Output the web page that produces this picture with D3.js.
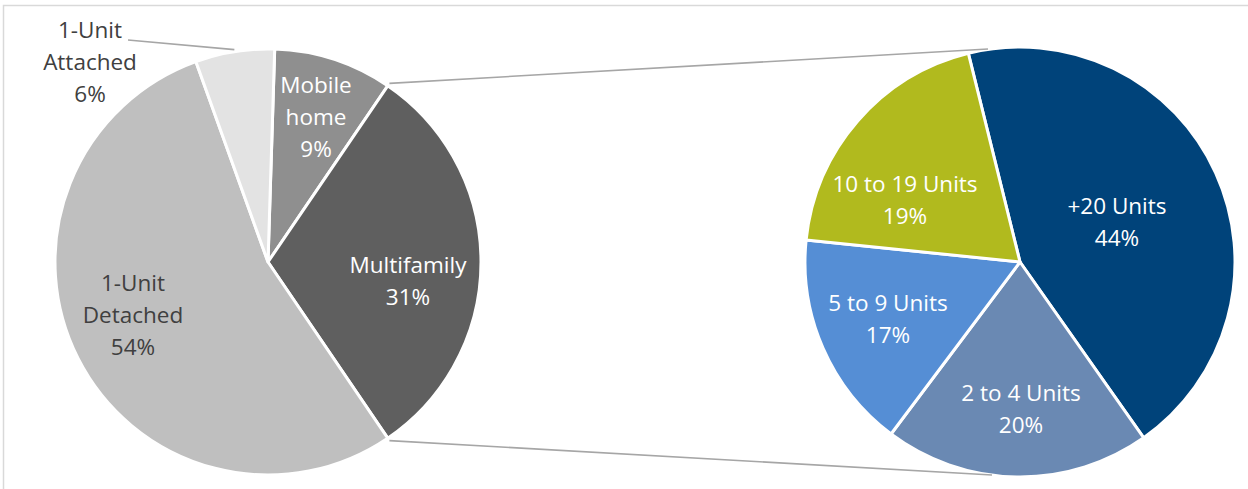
<!DOCTYPE html>
<html><head><meta charset="utf-8">
<script src="https://cdn.jsdelivr.net/npm/d3@7"></script>
<style>body{margin:0;background:#fff;}svg{display:block;}</style>
</head><body>
<script>
// Data
const mainCategories = ["Mobile home", "Multifamily", "1-Unit Detached", "1-Unit Attached"];
const mainValues = [9, 31, 54, 6];
const mainLabels = [["Mobile","home","9%"], ["Multifamily","31%"], ["1-Unit","Detached","54%"], ["1-Unit","Attached","6%"]];
const subCategories = ["+20 Units", "2 to 4 Units", "5 to 9 Units", "10 to 19 Units"];
const subValues = [44.1, 20, 16.4, 19.5];
const subLabels = [["+20 Units","44%"], ["2 to 4 Units","20%"], ["5 to 9 Units","17%"], ["10 to 19 Units","19%"]];

const W = 1248, H = 489;
const svg = d3.select("body").append("svg").attr("width", W).attr("height", H);

// chart border
svg.append("path").attr("d", `M3.5,${H}V5.5H${W}`).attr("fill","none").attr("stroke","#d9d9d9").attr("stroke-width",1.5);

const mainColors = d3.scaleOrdinal().domain(mainCategories).range(["#8f8f8f","#5f5f5f","#bfbfbf","#e3e3e3"]);
const mainText = d3.scaleOrdinal().domain(mainCategories).range(["#fff","#fff","#404040","#404040"]);
const subColors = d3.scaleOrdinal().domain(subCategories).range(["#00437a","#6a89b3","#558ed5","#b1ba1e"]);

const font = "'Open Sans', sans-serif";
const fs = 22.5, lh = 32;

// Main pie
const c1 = [268, 262], r1 = 213;
const total1 = d3.sum(mainValues);
const idxMF = mainCategories.indexOf("Multifamily");
const before = d3.sum(mainValues.slice(0, idxMF));
const offset1 = Math.PI/2 - (before + mainValues[idxMF]/2) / total1 * 2*Math.PI;
const pie1 = d3.pie().sort(null).value(d => d.v).startAngle(offset1).endAngle(offset1 + 2*Math.PI);
const data1 = pie1(mainCategories.map((c,i)=>({c, v: mainValues[i], l: mainLabels[i]})));
const arc1 = d3.arc().innerRadius(0).outerRadius(r1);
const g1 = svg.append("g").attr("transform", `translate(${c1})`);

// Sub pie
const c2 = [1020, 262], r2 = 215;
const offset2 = -13.9 * Math.PI/180;
const pie2 = d3.pie().sort(null).value(d => d.v).startAngle(offset2).endAngle(offset2 + 2*Math.PI);
const data2 = pie2(subCategories.map((c,i)=>({c, v: subValues[i], l: subLabels[i]})));
const arc2 = d3.arc().innerRadius(0).outerRadius(r2);
const g2 = svg.append("g").attr("transform", `translate(${c2})`);

// connector lines
const mf = data1[idxMF];
const pt = (c, r, a) => [c[0] + r*Math.sin(a), c[1] - r*Math.cos(a)];
const pA = pt(c1, r1+3, mf.startAngle), pB = pt(c1, r1+3, mf.endAngle);
svg.append("line").attr("x1",pA[0]).attr("y1",pA[1]).attr("x2",c2[0]-32).attr("y2",c2[1]-r2+2)
  .attr("stroke","#a6a6a6").attr("stroke-width",1.6);
svg.append("line").attr("x1",pB[0]).attr("y1",pB[1]).attr("x2",c2[0]-28).attr("y2",c2[1]+r2-2)
  .attr("stroke","#a6a6a6").attr("stroke-width",1.6);

g1.selectAll("path").data(data1).join("path").attr("d", arc1)
  .attr("fill", d => mainColors(d.data.c)).attr("stroke","#fff").attr("stroke-width",3).attr("stroke-linejoin","round");
g2.selectAll("path").data(data2).join("path").attr("d", arc2)
  .attr("fill", d => subColors(d.data.c)).attr("stroke","#fff").attr("stroke-width",3).attr("stroke-linejoin","round");

// label positions
const mainLabelPos = {"Mobile home":[316,85], "Multifamily":[408,265], "1-Unit Detached":[133,283], "1-Unit Attached":[90,30]};
const subLabelPos = {"+20 Units":[1117,206], "2 to 4 Units":[1021,393], "5 to 9 Units":[888,303], "10 to 19 Units":[905,184]};

// leader line for 1-Unit Attached
const att = data1[mainCategories.indexOf("1-Unit Attached")];
const attEnd = pt(c1, r1+2, (att.startAngle+att.endAngle)/2);
svg.append("line").attr("x1",128).attr("y1",40).attr("x2",attEnd[0]).attr("y2",attEnd[1])
  .attr("stroke","#a6a6a6").attr("stroke-width",1.6);

function drawLabel(lines, pos, color){
  const t = svg.append("text").attr("text-anchor","middle").attr("font-family",font).attr("font-size",fs).attr("fill",color);
  lines.forEach((s,i)=> t.append("tspan").attr("x",pos[0]).attr("y",pos[1] + i*lh).attr("dy","0.35em").text(s));
}
data1.forEach(d => drawLabel(d.data.l, mainLabelPos[d.data.c], mainText(d.data.c)));
data2.forEach(d => drawLabel(d.data.l, subLabelPos[d.data.c], "#fff"));
</script>
</body></html>
